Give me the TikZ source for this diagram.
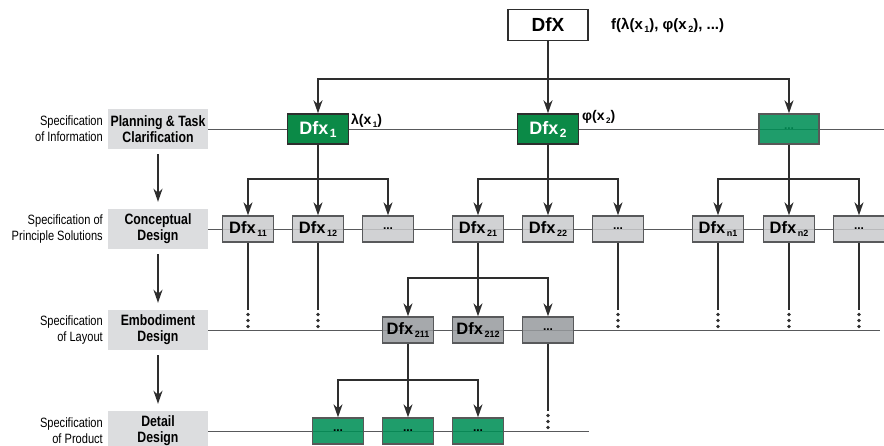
\documentclass[tikz,border=0pt]{standalone}
\usepackage{fontspec}
\setmainfont{Liberation Sans}
\newfontfamily\condfont{Liberation Sans}[FakeStretch=0.82]
\usepackage{tikz}
\usetikzlibrary{arrows.meta,positioning}
\definecolor{dfxGreen}{HTML}{0B8A47}
\definecolor{dfxTeal}{HTML}{008F56}
\definecolor{dfxLine}{HTML}{2E2E2E}
\definecolor{dfxBorder}{HTML}{58595B}
\definecolor{dfxGrayL}{HTML}{C9CACC}
\definecolor{dfxGrayM}{HTML}{979A9D}
\definecolor{dfxPhase}{HTML}{DCDDDF}
\newcommand{\low}[2][9]{\hspace{1.5pt}\raisebox{-3pt}{\fontsize{#1}{#1}\selectfont #2}}
\tikzset{
  phase/.style={rectangle,fill=dfxPhase,inner sep=0pt,
    minimum width=100,minimum height=40,align=center,
    font=\condfont\bfseries\fontsize{15}{16}\selectfont},
  spec/.style={anchor=east,align=right,inner sep=0pt,
    font=\condfont\fontsize{13.5}{16}\selectfont},
  topbox/.style={rectangle,draw=dfxLine,fill=white,line width=1.4,
    minimum width=80,minimum height=31,font=\bfseries\fontsize{19}{19}\selectfont},
  dfxbox/.style={rectangle,draw=dfxLine,fill=dfxGreen,line width=1.4,text=white,
    minimum width=61,minimum height=30,inner sep=0pt,
    font=\bfseries\fontsize{18}{18}\selectfont},
  tealbox/.style={rectangle,draw=dfxLine!80,fill=dfxTeal,fill opacity=0.88,text opacity=1,
    line width=1.3,minimum width=60,minimum height=30,inner sep=0pt,
    text=dfxTeal!88!black,font=\bfseries\fontsize{12}{12}\selectfont},
  conbox/.style={rectangle,draw=dfxBorder,fill=dfxGrayL,fill opacity=0.85,text opacity=1,
    line width=1.3,minimum width=51,minimum height=26,inner sep=0pt,
    font=\bfseries\fontsize{16.5}{16}\selectfont},
  embbox/.style={conbox,fill=dfxGrayM},
  detbox/.style={conbox,fill=dfxTeal,fill opacity=0.88,draw=dfxLine!80},
  note/.style={anchor=west,inner sep=0pt,font=\bfseries\fontsize{14}{14}\selectfont},
  flow/.style={-{Stealth[length=13,width=9,inset=4]},line width=1.7,draw=dfxLine},
  bus/.style={line width=1.7,draw=dfxLine},
  vline/.style={line width=1.1,draw=dfxLine},
  rowline/.style={line width=0.9,draw=dfxBorder}
}
\begin{document}
\begin{tikzpicture}[x=1pt,y=-1pt]
\useasboundingbox (0,0) rectangle (884,446);

% phases on the left
\node[phase] (plan) at (158,129) {Planning \& Task\\Clarification};
\node[phase] (conc) at (158,229) {Conceptual\\Design};
\node[phase] (embo) at (158,330) {Embodiment\\Design};
\node[phase] (deta) at (158,431) {Detail\\Design};
\node[spec] (s1) at (103,129) {Specification\\of Information};
\node[spec] (s2) at (103,229) {Specification of\\Principle Solutions};
\node[spec] (s3) at (103,330) {Specification\\of Layout};
\node[spec] (s4) at (103,431) {Specification\\of Product};
\draw[flow] ([yshift=-5]plan.south) -- ([yshift=7]conc.north);
\draw[flow] ([yshift=-5]conc.south) -- ([yshift=7]embo.north);
\draw[flow] ([yshift=-5]embo.south) -- ([yshift=7]deta.north);

% row lines
\coordinate (r1) at (884,129);
\coordinate (r2) at (884,229);
\coordinate (r3) at (880,330);
\coordinate (r4) at (589,431);
\draw[rowline] (plan.east) -- (r1);
\draw[rowline] (conc.east) -- (r2);
\draw[rowline] (embo.east) -- (r3);
\draw[rowline] (deta.east) -- (r4);

% top level
\node[topbox] (dfx) at (548,25) {DfX};
\node[note,font=\bfseries\fontsize{15}{15}\selectfont] (fx) at (611,25)
  {f(λ(x\low[9]{1}), φ(x\low[9]{2}), ...)};
\node[dfxbox] (dfxa) at (318,129) {Dfx\low[12]{1}};
\node[dfxbox] (dfxb) at (548,129) {Dfx\low[12]{2}};
\node[tealbox] (dfxn) at (789,129) {...};
\node[note] (lam) at (351,121) {λ(x\low[8]{1})};
\node[note] (phi) at (582,117) {φ(x\low[8]{2})};

% conceptual level
\node[conbox] (d11) at (248,229) {Dfx\low{11}};
\node[conbox] (d12) at (318,229) {Dfx\low{12}};
\node[conbox] (d1x) at (388,229) {\fontsize{12}{12}\selectfont ...};
\node[conbox] (d21) at (478,229) {Dfx\low{21}};
\node[conbox] (d22) at (548,229) {Dfx\low{22}};
\node[conbox] (d2x) at (618,229) {\fontsize{12}{12}\selectfont ...};
\node[conbox] (dn1) at (718,229) {Dfx\low{n1}};
\node[conbox] (dn2) at (789,229) {Dfx\low{n2}};
\node[conbox] (dnx) at (859,229) {\fontsize{12}{12}\selectfont ...};

% embodiment level
\node[embbox] (e211) at (408,330) {Dfx\low{211}};
\node[embbox] (e212) at (478,330) {Dfx\low{212}};
\node[embbox] (e21x) at (548,330) {\fontsize{12}{12}\selectfont ...};

% detail level
\node[detbox] (f1) at (338,431) {\fontsize{12}{12}\selectfont ...};
\node[detbox] (f2) at (408,431) {\fontsize{12}{12}\selectfont ...};
\node[detbox] (f3) at (478,431) {\fontsize{12}{12}\selectfont ...};

% branching
\coordinate (b0) at (548,79);
\draw[flow] (dfx) -- (dfxb);
\draw[flow] (b0) -| (dfxa);
\draw[flow] (b0) -| (dfxn);

\coordinate (b1) at (318,179);
\draw[bus] (dfxa) -- (b1);
\draw[flow] (b1) -| (d11);
\draw[flow] (b1) -- (d12);
\draw[flow] (b1) -| (d1x);

\coordinate (b2) at (548,179);
\draw[bus] (dfxb) -- (b2);
\draw[flow] (b2) -| (d21);
\draw[flow] (b2) -- (d22);
\draw[flow] (b2) -| (d2x);

\coordinate (bn) at (789,179);
\draw[bus] (dfxn) -- (bn);
\draw[flow] (bn) -| (dn1);
\draw[flow] (bn) -- (dn2);
\draw[flow] (bn) -| (dnx);

\coordinate (b21) at (478,278);
\draw[bus] (d21) -- (b21);
\draw[flow] (b21) -| (e211);
\draw[flow] (b21) -- (e212);
\draw[flow] (b21) -| (e21x);

\coordinate (b211) at (408,380);
\draw[bus] (e211) -- (b211);
\draw[flow] (b211) -| (f1);
\draw[flow] (b211) -- (f2);
\draw[flow] (b211) -| (f3);

% open ends with dots
\coordinate (dotsA) at (0,310);
\coordinate (dotsB) at (0,411);
\foreach \n in {d11,d12,d2x,dn1,dn2,dnx}{
  \draw[vline] (\n.south) -- (\n.south |- dotsA);
  \foreach \k in {0,1,2}
    \fill[dfxLine] (\n.south |- dotsA) ++(0,4.5+6*\k) circle (1.8);
}
\draw[vline] (e21x.south) -- (e21x.south |- dotsB);
\foreach \k in {0,1,2}
  \fill[dfxLine] (e21x.south |- dotsB) ++(0,4.5+6*\k) circle (1.8);
\end{tikzpicture}
\end{document}
